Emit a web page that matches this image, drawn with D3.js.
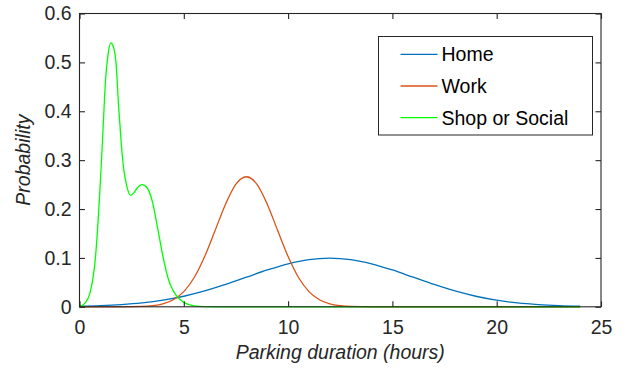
<!DOCTYPE html>
<html>
<head>
<meta charset="utf-8">
<script src="https://cdn.jsdelivr.net/npm/d3@7"></script>
<style>
  html, body { margin: 0; padding: 0; background: #fff; }
  svg { display: block; }
  text { font-family: "Liberation Sans", Arial, Helvetica, sans-serif; fill: #262626; }
</style>
</head>
<body>
<svg id="chart" width="627" height="370"></svg>
<script>
// Parking duration probability curves (hours vs probability)
const homeX = [0, 1, 2, 3, 4, 5, 6, 7, 8, 9, 10, 11, 12, 13, 14, 15, 16, 17, 18, 19, 20, 21, 22, 23, 24];
const homeY = [0.0011, 0.0023, 0.0044, 0.0079, 0.0135, 0.0216, 0.0324, 0.0457, 0.0605, 0.0753, 0.088, 0.0966, 0.0997,
               0.0966, 0.088, 0.0753, 0.0605, 0.0457, 0.0324, 0.0216, 0.0135, 0.0079, 0.0044, 0.0023, 0.0011];

const workX = [0, 1, 2, 3, 3.5, 4, 4.5, 5, 5.5, 6, 6.5, 7, 7.5, 8, 8.5, 9, 9.5, 10, 10.5, 11, 11.5, 12, 12.5, 13,
               14, 16, 18, 20, 22, 24];
const workY = [0, 0, 0, 0.0007, 0.0022, 0.0059, 0.0144, 0.031, 0.060, 0.103, 0.156, 0.210, 0.251, 0.266, 0.251, 0.210,
               0.156, 0.103, 0.060, 0.031, 0.0144, 0.0059, 0.0022, 0.0007, 0, 0, 0, 0, 0, 0];

const shopX = [0, 0.25, 0.5, 0.75, 1, 1.125, 1.25, 1.375, 1.5, 1.625, 1.75, 1.875, 2, 2.125, 2.25, 2.45, 2.625, 2.75,
               3, 3.25, 3.5, 3.75, 4, 4.25, 4.5, 4.75, 5, 5.5, 6, 7, 8, 10, 12, 14, 16, 18, 20, 22, 24];
const shopY = [0, 0.007, 0.028, 0.094, 0.255, 0.36, 0.465, 0.518, 0.54, 0.532, 0.50, 0.41, 0.335, 0.28, 0.25, 0.228,
               0.234, 0.242, 0.250, 0.243, 0.214, 0.160, 0.103, 0.058, 0.032, 0.018, 0.009, 0.002, 0.0005, 0, 0, 0, 0,
               0, 0, 0, 0, 0, 0];

const seriesNames = ["Home", "Work", "Shop or Social"];
const seriesColors = ["#0072BD", "#D95319", "#00FF00"];
const xTicks = [0, 5, 10, 15, 20, 25];
const yTicks = [0, 0.1, 0.2, 0.3, 0.4, 0.5, 0.6];

(function drawChart() {
  const series = [
    { name: seriesNames[0], color: seriesColors[0], pts: homeX.map((x, i) => [x, homeY[i]]) },
    { name: seriesNames[1], color: seriesColors[1], pts: workX.map((x, i) => [x, workY[i]]) },
    { name: seriesNames[2], color: seriesColors[2], pts: shopX.map((x, i) => [x, shopY[i]]) }
  ];

  const svg = d3.select("#chart");
  const pLeft = 79.5, pRight = 601, pTop = 13.5, pBottom = 306.8;
  const axisColor = "#262626";
  const fontSize = 19.5;

  const x = d3.scaleLinear().domain([0, 25]).range([pLeft, pRight]);
  const y = d3.scaleLinear().domain([0, 0.6]).range([pBottom, pTop]);

  // curves
  const line = d3.line().x(d => x(d[0])).y(d => y(d[1])).curve(d3.curveMonotoneX);
  svg.append("g").selectAll("path").data(series).join("path")
    .attr("d", d => line(d.pts))
    .attr("fill", "none")
    .attr("stroke", d => d.color)
    .attr("stroke-width", 1.3)
    .attr("stroke-linejoin", "round");

  // axes: inward ticks on all four sides, box frame
  const tickLen = 5.5;
  const axB = svg.append("g").attr("transform", `translate(0,${pBottom})`)
    .call(d3.axisBottom(x).tickValues(xTicks).tickSize(-tickLen).tickPadding(13).tickFormat(d3.format("d")));
  const axT = svg.append("g").attr("transform", `translate(0,${pTop})`)
    .call(d3.axisTop(x).tickValues(xTicks).tickSize(-tickLen).tickFormat(""));
  const axL = svg.append("g").attr("transform", `translate(${pLeft},0)`)
    .call(d3.axisLeft(y).tickValues(yTicks).tickSize(-tickLen).tickPadding(8)
      .tickFormat(d => d === 0 ? "0" : d3.format(".1f")(d)));
  const axR = svg.append("g").attr("transform", `translate(${pRight},0)`)
    .call(d3.axisRight(y).tickValues(yTicks).tickSize(-tickLen).tickFormat(""));

  [axB, axT, axL, axR].forEach(g => {
    g.select(".domain").remove();
    g.selectAll(".tick line").attr("stroke", axisColor).attr("stroke-width", 1.1);
    g.selectAll(".tick text").attr("fill", axisColor)
      .style("font-size", fontSize + "px")
      .style("font-family", '"Liberation Sans", Arial, sans-serif');
  });
  axB.selectAll(".tick text").attr("dy", "0.71em");

  svg.append("rect")
    .attr("x", pLeft).attr("y", pTop)
    .attr("width", pRight - pLeft).attr("height", pBottom - pTop)
    .attr("fill", "none").attr("stroke", axisColor).attr("stroke-width", 1.1);

  // axis titles
  svg.append("text")
    .attr("x", (pLeft + pRight) / 2).attr("y", 359)
    .attr("text-anchor", "middle")
    .style("font-size", fontSize + "px").style("font-style", "italic")
    .text("Parking duration (hours)");
  svg.append("text")
    .attr("transform", `translate(30,${(pTop + pBottom) / 2}) rotate(-90)`)
    .attr("text-anchor", "middle")
    .style("font-size", fontSize + "px").style("font-style", "italic")
    .text("Probability");

  // legend
  const lg = svg.append("g");
  lg.append("rect")
    .attr("x", 378.5).attr("y", 36.5).attr("width", 214).attr("height", 98.5)
    .attr("fill", "#fff").attr("stroke", axisColor).attr("stroke-width", 1);
  const rowY = [54.3, 86, 117.7];
  series.forEach((s, i) => {
    lg.append("line")
      .attr("x1", 400.5).attr("x2", 437.5).attr("y1", rowY[i]).attr("y2", rowY[i])
      .attr("stroke", s.color).attr("stroke-width", 1.3);
    lg.append("text")
      .attr("x", 441.5).attr("y", rowY[i]).attr("dy", "0.35em")
      .style("font-size", fontSize + "px")
      .style("fill", "#000")
      .text(s.name);
  });
})();
</script>
</body>
</html>
